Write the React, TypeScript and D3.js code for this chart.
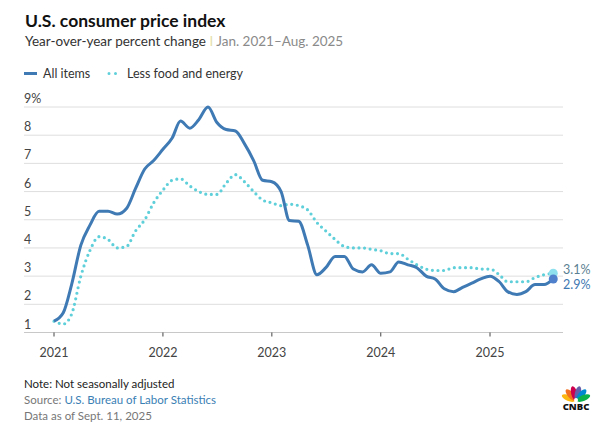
import { line, curveMonotoneX, scaleLinear, scaleTime, timeMonths, timeYears } from "d3";

const months = timeMonths(new Date(2021, 0, 1), new Date(2025, 8, 1));

const allItems = [
  1.4, 1.7, 2.7, 4.1, 4.8, 5.3, 5.3, 5.2, 5.4, 6.1, 6.8, 7.1,
  7.5, 7.9, 8.5, 8.25, 8.55, 9.0, 8.45, 8.2, 8.15, 7.7, 7.1, 6.4,
  6.35, 6.0, 4.97, 4.95, 4.1, 3.05, 3.3, 3.7, 3.7, 3.25, 3.15, 3.4,
  3.1, 3.15, 3.5, 3.4, 3.3, 3.0, 2.9, 2.55, 2.45, 2.6, 2.75, 2.9,
  3.0, 2.8, 2.45, 2.35, 2.45, 2.7, 2.7, 2.9,
];

const core = [
  1.4, 1.3, 1.65, 3.0, 3.9, 4.4, 4.3, 4.0, 4.05, 4.6, 5.0, 5.6,
  6.05, 6.4, 6.45, 6.2, 6.0, 5.9, 5.9, 6.3, 6.6, 6.35, 6.0, 5.7,
  5.6, 5.5, 5.55, 5.5, 5.35, 4.9, 4.6, 4.3, 4.05, 4.0, 4.0, 3.95,
  3.9, 3.8, 3.8, 3.6, 3.4, 3.25, 3.2, 3.2, 3.3, 3.3, 3.3, 3.25,
  3.25, 3.05, 2.8, 2.8, 2.8, 2.95, 3.05, 3.1,
];

const yTicks = [1, 2, 3, 4, 5, 6, 7, 8, 9];
const endLabels = ["2.9%", "3.1%"];

const BLUE = "#3f7ab4";
const CYAN = "#5fd0da";
const FONT = "Lato, 'Open Sans', sans-serif";

const x = scaleTime()
  .domain([new Date(2021, 0, 1), new Date(2025, 0, 1)])
  .range([54, 490]);
const y = scaleLinear().domain([1, 9]).range([332.5, 107]);

const lineGen = line<number>()
  .x((_, i) => x(months[i]))
  .y((d) => y(d))
  .curve(curveMonotoneX);

// peacock feathers, left to right
const feathers = ["#fcb711", "#f37021", "#cc004c", "#6460aa", "#0089d0", "#0db14b"];

function Logo() {
  const cx = 576;
  const cy = 401;
  return (
    <g>
      {feathers.map((c, i) => {
        const a = -68 + i * 27.2;
        return (
          <ellipse
            key={c}
            cx={cx}
            cy={cy - 8}
            rx={3}
            ry={7.2}
            fill={c}
            transform={`rotate(${a} ${cx} ${cy})`}
          />
        );
      })}
      <circle cx={cx} cy={cy - 1} r={2} fill="#fff" />
      <text x={cx} y={410} textAnchor="middle" fontSize={9.5} fontWeight={900} fill="#111" fontFamily="'Open Sans', sans-serif">
        CNBC
      </text>
    </g>
  );
}

export default function App() {
  const last = months.length - 1;
  return (
    <svg
      width={608}
      height={441}
      style={{ position: "absolute", left: 0, top: 0, background: "#fff" }}
      fontFamily={FONT}
    >
      <rect width={608} height={441} fill="#fff" />
      <text x={25} y={27} fontSize={17.5} fontWeight={700} fill="#111">
        U.S. consumer price index
      </text>
      <text x={25} y={46} fontSize={13.5} fill="#333">
        Year-over-year percent change
        <tspan fill="#e6dfae"> I </tspan>
        <tspan fill="#8a8a8a">Jan. 2021–Aug. 2025</tspan>
      </text>

      {/* legend */}
      <line x1={24} x2={37} y1={73.5} y2={73.5} stroke={BLUE} strokeWidth={3} />
      <text x={43} y={77.5} fontSize={12.5} fill="#333">All items</text>
      <line
        x1={109}
        x2={117}
        y1={73.5}
        y2={73.5}
        stroke={CYAN}
        strokeWidth={3}
        strokeLinecap="round"
        strokeDasharray="0 6.5"
      />
      <text x={127} y={77.5} fontSize={12.5} fill="#333">Less food and energy</text>

      {/* grid */}
      {yTicks.map((t) => (
        <g key={t}>
          <line x1={24} x2={563} y1={y(t)} y2={y(t)} stroke={t === 1 ? "#c8c8c8" : "#dedede"} strokeWidth={1} />
          <text x={24} y={y(t) - 4} fontSize={12.5} fill="#444">
            {t === 9 ? "9%" : t}
          </text>
        </g>
      ))}
      {timeYears(new Date(2021, 0, 1), new Date(2025, 1, 1)).map((d) => (
        <g key={d.getFullYear()}>
          <line x1={x(d)} x2={x(d)} y1={y(1)} y2={y(1) + 4} stroke="#444" strokeWidth={1} />
          <text x={x(d)} y={357} fontSize={12.5} textAnchor="middle" fill="#444">
            {d.getFullYear()}
          </text>
        </g>
      ))}

      {/* series */}
      <path
        d={lineGen(core) ?? ""}
        fill="none"
        stroke={CYAN}
        strokeWidth={3.2}
        strokeLinecap="round"
        strokeDasharray="0 5.6"
      />
      <path d={lineGen(allItems) ?? ""} fill="none" stroke={BLUE} strokeWidth={3} strokeLinejoin="round" />

      <circle cx={x(months[last])} cy={y(core[last])} r={4.5} fill="#8fe0ee" />
      <circle cx={x(months[last])} cy={y(allItems[last])} r={4.5} fill="#4f80cc" />
      <text x={563} y={y(core[last]) + 0.5} fontSize={12.5} fill="#5b7f92">
        {endLabels[1]}
      </text>
      <text x={563} y={y(allItems[last]) + 10} fontSize={12.5} fill="#3e78b2">
        {endLabels[0]}
      </text>

      {/* footer */}
      <text x={24} y={388} fontSize={11.5} fill="#222">Note: Not seasonally adjusted</text>
      <text x={24} y={404} fontSize={11.5} fill="#777">
        Source: <tspan fill="#3a80b4">U.S. Bureau of Labor Statistics</tspan>
      </text>
      <text x={24} y={420} fontSize={11.5} fill="#777">Data as of Sept. 11, 2025</text>

      <Logo />
    </svg>
  );
}
